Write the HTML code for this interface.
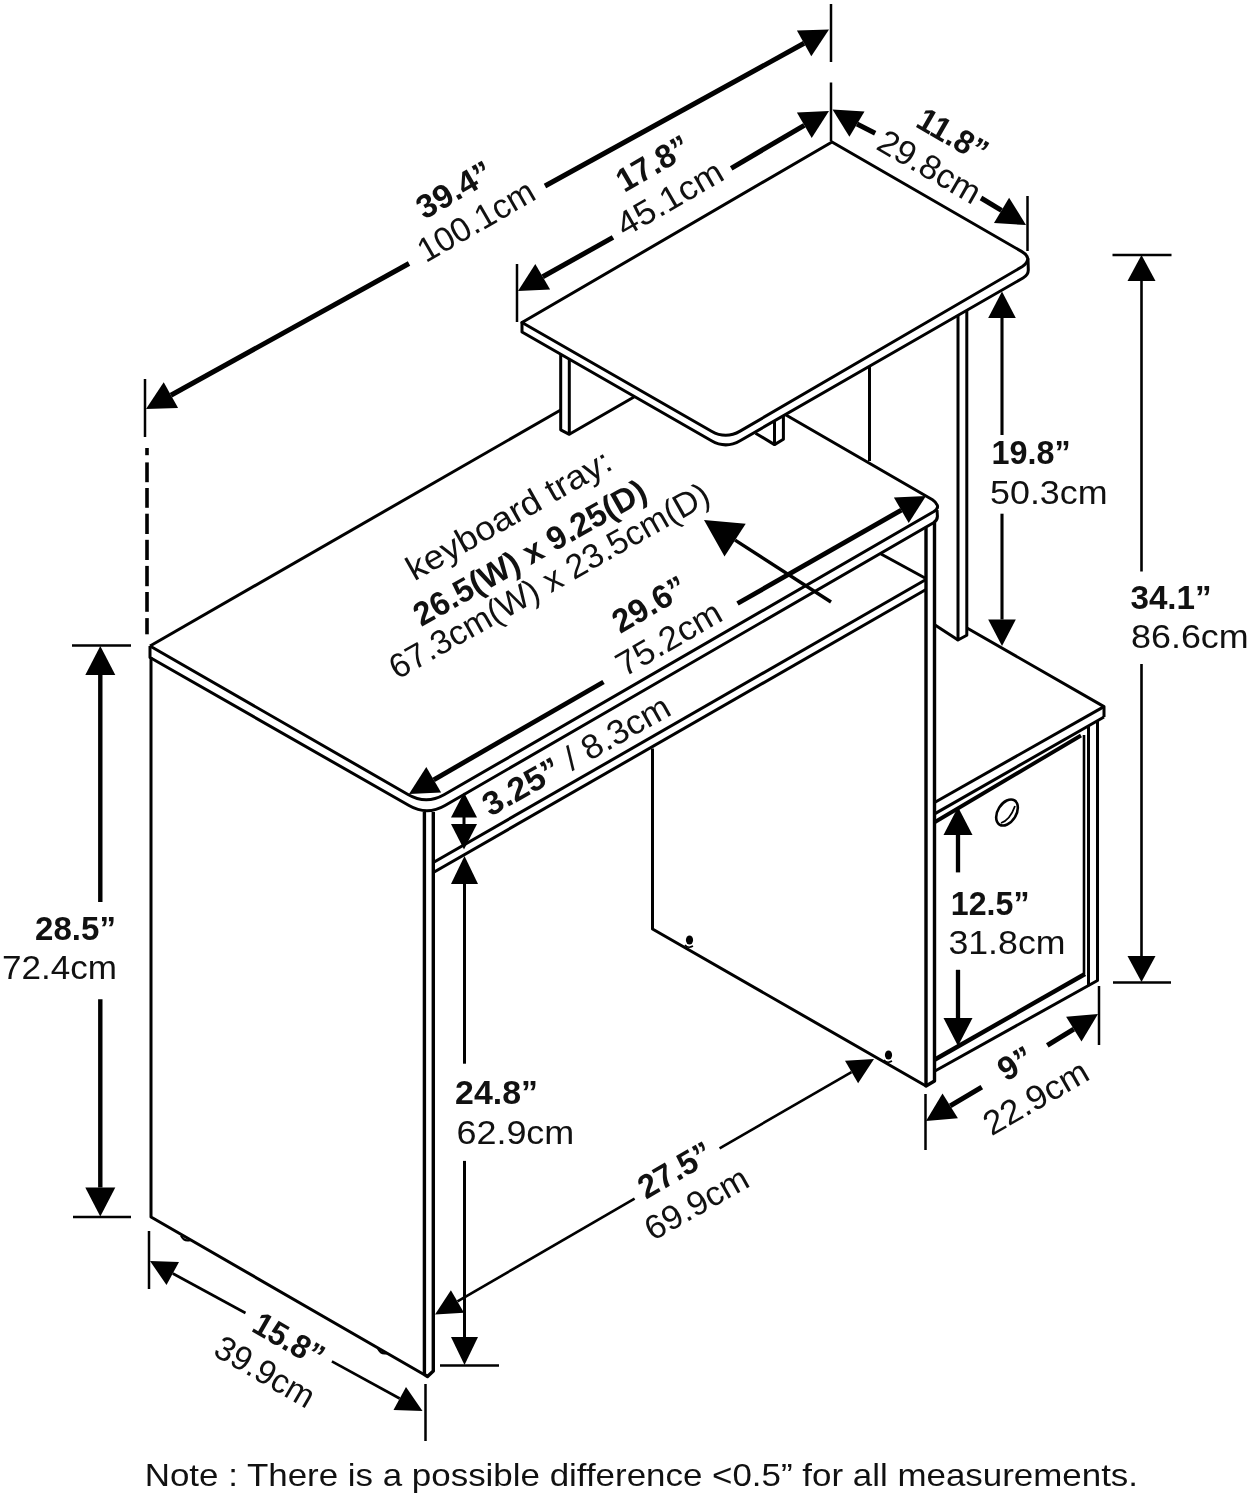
<!DOCTYPE html>
<html><head><meta charset="utf-8"><title>Desk dimensions</title>
<style>html,body{margin:0;padding:0;background:#fff}svg{display:block;opacity:.9999;will-change:transform}text{font-family:"Liberation Sans",sans-serif;fill:#111;stroke:none}</style>
</head><body>
<svg width="1249" height="1500" viewBox="0 0 1249 1500" stroke="#000" fill="none">
<rect width="1249" height="1500" fill="#fff" stroke="none"/>
<line x1="150.0" y1="646.0" x2="560.7" y2="410.0" stroke-width="3.0" stroke-linecap="butt"/>
<path d="M560.7,350 L560.7,429.8 L569.3,434.3 L569.3,356 M569.3,434.3 L634,397" stroke-width="3.0" fill="none" stroke-linejoin="round" />
<path d="M774.5,420 L774.5,444.6 L783.4,439.3 L783.4,415 M774.5,444.6 L755.5,433.2" stroke-width="3.0" fill="none" stroke-linejoin="round" />
<line x1="869.5" y1="364.0" x2="869.5" y2="461.0" stroke-width="3.0" stroke-linecap="butt"/>
<path d="M958,312 L958,640 L966.8,635.3 L966.8,306" stroke-width="3.0" fill="none" stroke-linejoin="round" />
<line x1="958.0" y1="640.0" x2="935.0" y2="625.0" stroke-width="3.0" stroke-linecap="butt"/>
<path d="M522,322.5 L522,332 L711.5,440.8 Q725.8,449 740.1,440.7 L1023,278 Q1028.3,275 1028.3,270 L1028,259 Z" stroke-width="3.0" fill="#fff" stroke-linejoin="round" />
<path d="M522,322.5 L832,142 L1021.5,251.4 Q1028.5,255.5 1027.6,259.5 Q1027,263.6 1022,266.8 L740.1,431.1 Q725.8,439.4 711.5,431.2 Z" stroke-width="3.0" fill="#fff" stroke-linejoin="round" />
<path d="M150,646 L408,794.5 Q426,805 444,794.8 L933.5,511.8 Q938.6,508.6 937.3,505.2 Q936,502 932.5,499.7 L786,415" stroke-width="3.0" fill="none" stroke-linejoin="round" />
<path d="M150,646 L150,657.5 L409,805.5 Q427,816 445,805.5 L933.5,522.8 Q937.6,520 937.4,516 L937,510" stroke-width="3.0" fill="none" stroke-linejoin="round" />
<path d="M151,657 L151,1217 L424,1374.5" stroke-width="3.0" fill="none" stroke-linejoin="round" />
<path d="M424.4,812 L424.4,1374.5 L427.5,1376.5 L433.3,1371 L433.3,812" stroke-width="3.4" fill="none" stroke-linejoin="round" />
<line x1="433.3" y1="862.5" x2="926.0" y2="579.5" stroke-width="3.0" stroke-linecap="butt"/>
<line x1="433.3" y1="872.5" x2="926.0" y2="589.5" stroke-width="3.0" stroke-linecap="butt"/>
<line x1="881.0" y1="554.0" x2="925.0" y2="578.0" stroke-width="3.0" stroke-linecap="butt"/>
<path d="M926,527.5 L926,1086 L934.5,1081 L934.5,522.5" stroke-width="3.4" fill="none" stroke-linejoin="round" />
<path d="M652.5,748.5 L652.5,929 L926,1086" stroke-width="3.0" fill="none" stroke-linejoin="round" />
<ellipse cx="689.5" cy="940" rx="3.6" ry="4.6" fill="#000" stroke="none"/>
<ellipse cx="888.5" cy="1055" rx="3.6" ry="4.6" fill="#000" stroke="none"/>
<path d="M685,945 Q688,949 693,946" stroke-width="1.5" fill="none" stroke-linejoin="round" />
<path d="M884,1060 Q887,1064 892,1061" stroke-width="1.5" fill="none" stroke-linejoin="round" />
<path d="M181,1235.5 Q184,1242 190.5,1240" stroke-width="2" fill="none" stroke-linejoin="round" />
<path d="M378,1348.5 Q381,1355 387.5,1353" stroke-width="2" fill="none" stroke-linejoin="round" />
<path d="M967,628 L1104,706.6 L1104,717" stroke-width="3.0" fill="none" stroke-linejoin="round" />
<line x1="1104.0" y1="706.6" x2="935.0" y2="802.2" stroke-width="3.0" stroke-linecap="butt"/>
<line x1="1104.0" y1="717.0" x2="935.0" y2="813.6" stroke-width="3.0" stroke-linecap="butt"/>
<line x1="1081.0" y1="735.5" x2="935.0" y2="822.0" stroke-width="3.8" stroke-linecap="butt"/>
<path d="M1088.5,726 L1088.5,985.5 L1097.5,980.5 L1097.5,721" stroke-width="3.0" fill="none" stroke-linejoin="round" />
<line x1="1084.0" y1="735.0" x2="1084.0" y2="974.0" stroke-width="2.6" stroke-linecap="butt"/>
<line x1="935.0" y1="1059.5" x2="1085.0" y2="974.0" stroke-width="4.4" stroke-linecap="butt"/>
<line x1="935.0" y1="1071.0" x2="1088.5" y2="985.5" stroke-width="3.0" stroke-linecap="butt"/>
<ellipse cx="1007" cy="812.5" rx="9.2" ry="14.2" transform="rotate(32 1007 812.5)" fill="none" stroke-width="2.6"/>
<path d="M1001,823 Q1010,820 1015,806" fill="none" stroke-width="1.8"/>
<polygon points="146.0,409.0 163.7,382.3 178.1,408.1" fill="#000" stroke="none"/>
<polygon points="829.0,29.5 811.3,56.2 796.9,30.4" fill="#000" stroke="none"/>
<line x1="170.9" y1="395.2" x2="409.0" y2="263.5" stroke-width="5.0" stroke-linecap="butt"/>
<line x1="545.0" y1="186.0" x2="804.1" y2="43.3" stroke-width="5.0" stroke-linecap="butt"/>
<line x1="145.0" y1="379.0" x2="145.0" y2="437.0" stroke-width="2.5" stroke-linecap="butt"/>
<line x1="831.0" y1="4.0" x2="831.0" y2="62.0" stroke-width="2.5" stroke-linecap="butt"/>
<line x1="147.0" y1="448.0" x2="147.0" y2="455.2" stroke-width="3.6" stroke-linecap="butt"/>
<line x1="147.0" y1="462.4" x2="147.0" y2="482.2" stroke-width="3.6" stroke-linecap="butt"/>
<line x1="147.0" y1="488.0" x2="147.0" y2="507.8" stroke-width="3.6" stroke-linecap="butt"/>
<line x1="147.0" y1="513.7" x2="147.0" y2="534.0" stroke-width="3.6" stroke-linecap="butt"/>
<line x1="147.0" y1="539.8" x2="147.0" y2="560.0" stroke-width="3.6" stroke-linecap="butt"/>
<line x1="147.0" y1="565.9" x2="147.0" y2="586.2" stroke-width="3.6" stroke-linecap="butt"/>
<line x1="147.0" y1="592.0" x2="147.0" y2="611.8" stroke-width="3.6" stroke-linecap="butt"/>
<line x1="147.0" y1="618.1" x2="147.0" y2="634.3" stroke-width="3.6" stroke-linecap="butt"/>
<polygon points="518.0,291.0 535.3,264.0 550.1,289.5" fill="#000" stroke="none"/>
<polygon points="829.0,111.0 811.7,138.0 796.9,112.5" fill="#000" stroke="none"/>
<line x1="542.7" y1="276.7" x2="613.0" y2="237.4" stroke-width="5.0" stroke-linecap="butt"/>
<line x1="731.2" y1="168.3" x2="804.3" y2="125.3" stroke-width="5.0" stroke-linecap="butt"/>
<line x1="517.0" y1="264.0" x2="517.0" y2="322.0" stroke-width="2.5" stroke-linecap="butt"/>
<line x1="831.0" y1="82.5" x2="831.0" y2="141.0" stroke-width="2.5" stroke-linecap="butt"/>
<polygon points="832.5,109.5 864.5,111.4 849.4,136.8" fill="#000" stroke="none"/>
<polygon points="1026.0,225.0 994.0,223.1 1009.1,197.7" fill="#000" stroke="none"/>
<line x1="857.0" y1="124.1" x2="875.2" y2="133.2" stroke-width="5.0" stroke-linecap="butt"/>
<line x1="981.0" y1="198.0" x2="1001.5" y2="210.4" stroke-width="5.0" stroke-linecap="butt"/>
<line x1="1027.5" y1="196.0" x2="1027.5" y2="251.0" stroke-width="2.5" stroke-linecap="butt"/>
<polygon points="1002.0,291.5 1015.8,318.0 988.2,318.0" fill="#000" stroke="none"/>
<polygon points="1002.0,646.0 988.2,619.5 1015.8,619.5" fill="#000" stroke="none"/>
<line x1="1002.0" y1="318.0" x2="1002.0" y2="435.0" stroke-width="3.1" stroke-linecap="butt"/>
<line x1="1002.0" y1="513.7" x2="1002.0" y2="619.5" stroke-width="3.1" stroke-linecap="butt"/>
<polygon points="1141.5,255.0 1155.5,281.0 1127.5,281.0" fill="#000" stroke="none"/>
<polygon points="1141.5,982.0 1127.5,956.0 1155.5,956.0" fill="#000" stroke="none"/>
<line x1="1141.5" y1="281.0" x2="1141.5" y2="571.5" stroke-width="2.6" stroke-linecap="butt"/>
<line x1="1141.5" y1="664.0" x2="1141.5" y2="956.0" stroke-width="2.6" stroke-linecap="butt"/>
<line x1="1112.5" y1="255.0" x2="1171.5" y2="255.0" stroke-width="2.5" stroke-linecap="butt"/>
<line x1="1113.0" y1="982.5" x2="1171.0" y2="982.5" stroke-width="2.5" stroke-linecap="butt"/>
<polygon points="100.3,646.0 115.3,675.0 85.3,675.0" fill="#000" stroke="none"/>
<polygon points="100.3,1216.5 85.3,1187.5 115.3,1187.5" fill="#000" stroke="none"/>
<line x1="100.3" y1="675.0" x2="100.3" y2="902.0" stroke-width="4.4" stroke-linecap="butt"/>
<line x1="100.3" y1="999.3" x2="100.3" y2="1187.5" stroke-width="4.4" stroke-linecap="butt"/>
<line x1="72.0" y1="645.5" x2="131.0" y2="645.5" stroke-width="2.5" stroke-linecap="butt"/>
<line x1="73.0" y1="1217.0" x2="131.0" y2="1217.0" stroke-width="2.5" stroke-linecap="butt"/>
<polygon points="464.5,856.0 478.0,884.0 451.0,884.0" fill="#000" stroke="none"/>
<polygon points="464.5,1365.0 451.0,1337.0 478.0,1337.0" fill="#000" stroke="none"/>
<line x1="464.5" y1="884.0" x2="464.5" y2="1063.7" stroke-width="3.0" stroke-linecap="butt"/>
<line x1="464.5" y1="1160.9" x2="464.5" y2="1337.0" stroke-width="3.0" stroke-linecap="butt"/>
<line x1="440.0" y1="1365.5" x2="499.0" y2="1365.5" stroke-width="2.5" stroke-linecap="butt"/>
<polygon points="464.0,792.5 477.0,817.5 451.0,817.5" fill="#000" stroke="none"/>
<polygon points="464.0,849.5 451.0,824.0 477.0,824.0" fill="#000" stroke="none"/>
<line x1="464.0" y1="815.0" x2="464.0" y2="826.0" stroke-width="3.0" stroke-linecap="butt"/>
<polygon points="958.0,807.0 972.5,835.0 943.5,835.0" fill="#000" stroke="none"/>
<polygon points="958.0,1046.0 943.5,1018.0 972.5,1018.0" fill="#000" stroke="none"/>
<line x1="958.0" y1="835.0" x2="958.0" y2="872.4" stroke-width="4.3" stroke-linecap="butt"/>
<line x1="958.0" y1="969.8" x2="958.0" y2="1018.0" stroke-width="4.3" stroke-linecap="butt"/>
<polygon points="409.0,794.0 426.3,767.0 441.1,792.5" fill="#000" stroke="none"/>
<polygon points="926.0,496.0 908.7,523.0 893.9,497.5" fill="#000" stroke="none"/>
<line x1="433.7" y1="779.8" x2="603.5" y2="682.0" stroke-width="4.8" stroke-linecap="butt"/>
<line x1="737.5" y1="603.5" x2="901.3" y2="510.2" stroke-width="4.8" stroke-linecap="butt"/>
<polygon points="704.0,520.0 745.7,523.7 724.5,556.5" fill="#000" stroke="none"/>
<line x1="735.1" y1="540.1" x2="831.0" y2="602.0" stroke-width="3.5" stroke-linecap="butt"/>
<polygon points="435.0,1314.5 450.9,1290.2 464.0,1312.7" fill="#000" stroke="none"/>
<polygon points="874.0,1059.0 858.1,1083.3 845.0,1060.8" fill="#000" stroke="none"/>
<line x1="457.5" y1="1301.4" x2="634.6" y2="1198.7" stroke-width="2.6" stroke-linecap="butt"/>
<line x1="719.6" y1="1148.3" x2="851.5" y2="1072.1" stroke-width="2.6" stroke-linecap="butt"/>
<polygon points="150.0,1261.0 179.0,1262.1 166.5,1284.9" fill="#000" stroke="none"/>
<polygon points="422.5,1411.0 393.5,1409.9 406.0,1387.1" fill="#000" stroke="none"/>
<line x1="172.8" y1="1273.5" x2="245.5" y2="1313.0" stroke-width="2.6" stroke-linecap="butt"/>
<line x1="331.9" y1="1361.3" x2="399.7" y2="1398.5" stroke-width="2.6" stroke-linecap="butt"/>
<line x1="149.0" y1="1231.0" x2="149.0" y2="1289.0" stroke-width="2.5" stroke-linecap="butt"/>
<line x1="425.5" y1="1384.0" x2="425.5" y2="1441.0" stroke-width="2.5" stroke-linecap="butt"/>
<polygon points="926.0,1121.0 942.5,1093.6 957.9,1118.3" fill="#000" stroke="none"/>
<polygon points="1098.0,1014.0 1081.5,1041.4 1066.1,1016.7" fill="#000" stroke="none"/>
<line x1="950.2" y1="1105.9" x2="981.8" y2="1087.1" stroke-width="5.0" stroke-linecap="butt"/>
<line x1="1047.3" y1="1045.3" x2="1073.8" y2="1029.1" stroke-width="5.0" stroke-linecap="butt"/>
<line x1="925.5" y1="1094.0" x2="925.5" y2="1150.0" stroke-width="2.5" stroke-linecap="butt"/>
<line x1="1099.0" y1="986.0" x2="1099.0" y2="1045.0" stroke-width="2.5" stroke-linecap="butt"/>
<text transform="translate(991.5,464.4) rotate(0.00)" font-size="33" font-weight="bold" textLength="79.1" lengthAdjust="spacingAndGlyphs">19.8”</text>
<text transform="translate(990.0,503.8) rotate(0.00)" font-size="34" textLength="117.6" lengthAdjust="spacingAndGlyphs">50.3cm</text>
<text transform="translate(1130.4,608.6) rotate(0.00)" font-size="33" font-weight="bold" textLength="81.3" lengthAdjust="spacingAndGlyphs">34.1”</text>
<text transform="translate(1131.0,648.0) rotate(0.00)" font-size="34" textLength="117.7" lengthAdjust="spacingAndGlyphs">86.6cm</text>
<text transform="translate(35.1,939.7) rotate(0.00)" font-size="33" font-weight="bold" textLength="80.8" lengthAdjust="spacingAndGlyphs">28.5”</text>
<text transform="translate(2.0,979.3) rotate(0.00)" font-size="34" textLength="115.0" lengthAdjust="spacingAndGlyphs">72.4cm</text>
<text transform="translate(455.1,1104.4) rotate(0.00)" font-size="33" font-weight="bold" textLength="82.9" lengthAdjust="spacingAndGlyphs">24.8”</text>
<text transform="translate(456.4,1143.8) rotate(0.00)" font-size="34" textLength="117.9" lengthAdjust="spacingAndGlyphs">62.9cm</text>
<text transform="translate(950.8,914.9) rotate(0.00)" font-size="33" font-weight="bold" textLength="78.7" lengthAdjust="spacingAndGlyphs">12.5”</text>
<text transform="translate(948.4,954.1) rotate(0.00)" font-size="34" textLength="117.1" lengthAdjust="spacingAndGlyphs">31.8cm</text>
<text transform="translate(424.3,220.0) rotate(-30.00)" font-size="33" font-weight="bold" textLength="82.0" lengthAdjust="spacingAndGlyphs">39.4”</text>
<text transform="translate(425.7,263.3) rotate(-30.00)" font-size="34" textLength="129.6" lengthAdjust="spacingAndGlyphs">100.1cm</text>
<text transform="translate(624.3,193.0) rotate(-30.00)" font-size="33" font-weight="bold" textLength="79.0" lengthAdjust="spacingAndGlyphs">17.8”</text>
<text transform="translate(624.8,237.5) rotate(-30.00)" font-size="34" textLength="117.0" lengthAdjust="spacingAndGlyphs">45.1cm</text>
<text transform="translate(914.3,126.0) rotate(30.00)" font-size="33" font-weight="bold" textLength="76.0" lengthAdjust="spacingAndGlyphs">11.8”</text>
<text transform="translate(874.8,148.5) rotate(30.00)" font-size="34" textLength="113.0" lengthAdjust="spacingAndGlyphs">29.8cm</text>
<text transform="translate(414.3,581.5) rotate(-29.50)" font-size="34" textLength="230.0" lengthAdjust="spacingAndGlyphs">keyboard tray:</text>
<text transform="translate(421.3,627.0) rotate(-29.50)" font-size="33" font-weight="bold" textLength="262.0" lengthAdjust="spacingAndGlyphs">26.5(W) x 9.25(D)</text>
<text transform="translate(397.3,680.0) rotate(-29.50)" font-size="34" textLength="362.0" lengthAdjust="spacingAndGlyphs">67.3cm(W) x 23.5cm(D)</text>
<text transform="translate(620.3,634.0) rotate(-30.00)" font-size="33" font-weight="bold" textLength="80.0" lengthAdjust="spacingAndGlyphs">29.6”</text>
<text transform="translate(624.3,677.5) rotate(-30.00)" font-size="34" textLength="116.0" lengthAdjust="spacingAndGlyphs">75.2cm</text>
<text transform="translate(490.3,817.0) rotate(-29.40)" font-size="34" textLength="210.0" lengthAdjust="spacingAndGlyphs"><tspan font-weight="bold" font-size="33">3.25”</tspan> / 8.3cm</text>
<text transform="translate(645.9,1199.7) rotate(-30.00)" font-size="33" font-weight="bold" textLength="80.0" lengthAdjust="spacingAndGlyphs">27.5”</text>
<text transform="translate(652.8,1241.5) rotate(-29.50)" font-size="34" textLength="113.5" lengthAdjust="spacingAndGlyphs">69.9cm</text>
<text transform="translate(250.3,1330.5) rotate(30.00)" font-size="33" font-weight="bold" textLength="76.0" lengthAdjust="spacingAndGlyphs">15.8”</text>
<text transform="translate(211.8,1354.5) rotate(30.00)" font-size="34" textLength="109.5" lengthAdjust="spacingAndGlyphs">39.9cm</text>
<text transform="translate(1005.8,1082.0) rotate(-30.00)" font-size="33" font-weight="bold" textLength="35.0" lengthAdjust="spacingAndGlyphs">9”</text>
<text transform="translate(991.6,1136.4) rotate(-30.00)" font-size="34" textLength="115.4" lengthAdjust="spacingAndGlyphs">22.9cm</text>
<text transform="translate(144.7,1486.4) rotate(0.00)" font-size="30.5" textLength="993.3" lengthAdjust="spacingAndGlyphs">Note : There is a possible difference &lt;0.5” for all measurements.</text>
</svg>
</body></html>
